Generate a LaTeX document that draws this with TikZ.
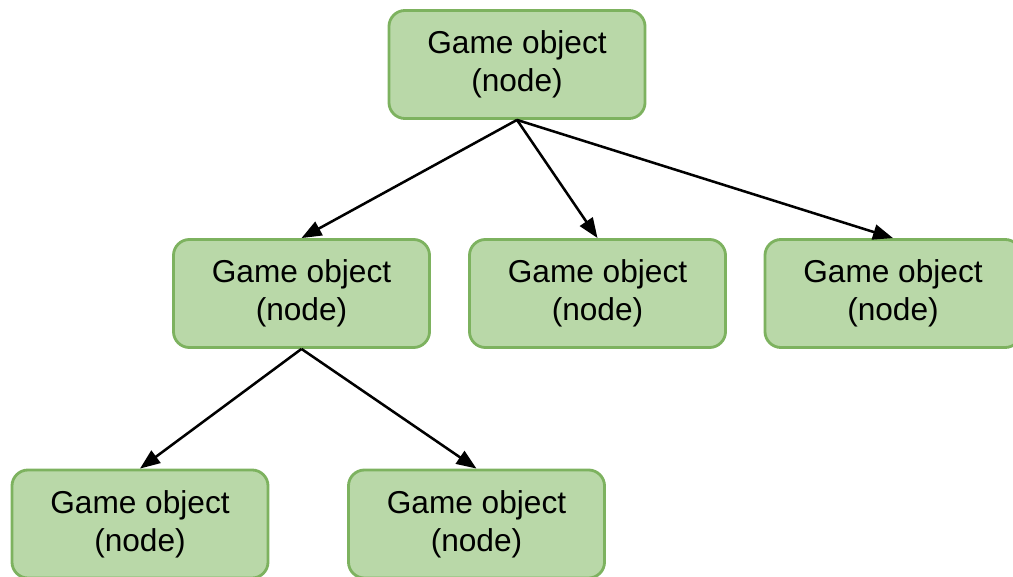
\documentclass[tikz,border=0pt]{standalone}
\usepackage{fontspec}
\setmainfont{Liberation Sans}
\usetikzlibrary{arrows.meta}
\definecolor{objfill}{RGB}{185,216,168}
\definecolor{objline}{RGB}{125,178,95}
\tikzset{
  gameobj/.style={draw=objline,fill=objfill,line width=2pt,rounded corners=0.4cm,
    minimum width=6.4cm,minimum height=2.7cm,align=center,
    font=\fontsize{22.5}{27}\selectfont},
  link/.style={-{Triangle[length=0.5cm,width=0.38cm]},line width=1.8pt,black}
}
\begin{document}
\begin{tikzpicture}[x=0.025cm,y=-0.025cm]
  \useasboundingbox (0,0) rectangle (1013,577);
  % root
  \node [gameobj] (root) at (517,64.5) {Game object\\(node)};
  % second level
  \node [gameobj] (left) at (301.5,293.5) {Game object\\(node)};
  \node [gameobj] (mid) at (597.5,293.5) {Game object\\(node)};
  \node [gameobj] (right) at (893,293.5) {Game object\\(node)};
  % third level
  \node [gameobj] (leafa) at (140,524) {Game object\\(node)};
  \node [gameobj] (leafb) at (476.5,524) {Game object\\(node)};
  % connectors
  \draw [link] (root.south) -- (left.north);
  \draw [link] (root.south) -- (mid.north);
  \draw [link] (root.south) -- (right.north);
  \draw [link] (left.south) -- (leafa.north);
  \draw [link] (left.south) -- (leafb.north);
\end{tikzpicture}
\end{document}
